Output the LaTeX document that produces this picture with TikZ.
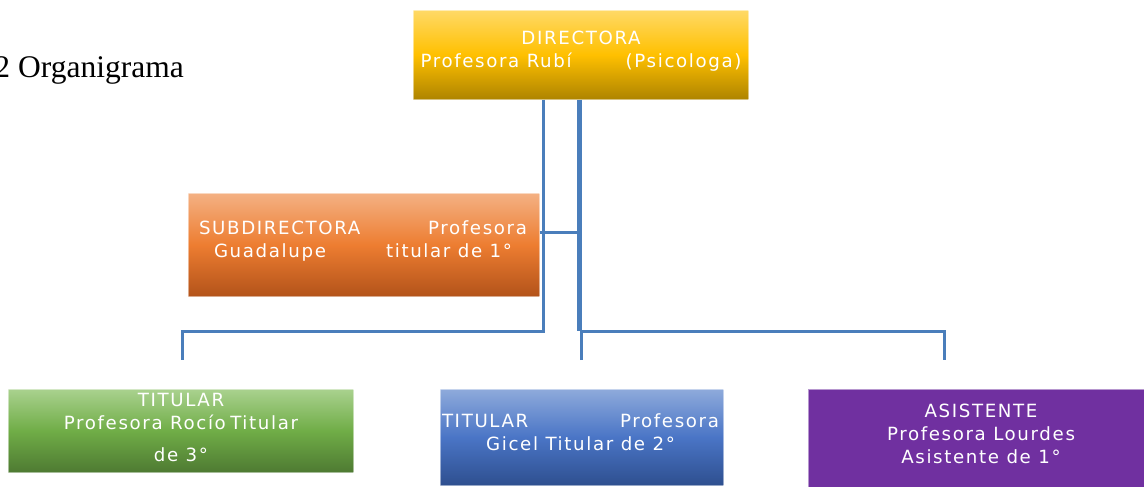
\documentclass[tikz,border=0pt]{standalone}
\usepackage{fontspec}
\setmainfont{Liberation Serif}
\newfontfamily\boxfont[LetterSpace=9]{DejaVu Sans}
\definecolor{lineblue}{HTML}{4A7EBB}
\definecolor{yTop}{HTML}{FFD966}
\definecolor{yMid}{HTML}{FFC000}
\definecolor{yBot}{HTML}{AE8400}
\definecolor{oTop}{HTML}{F4B183}
\definecolor{oMid}{HTML}{ED7D31}
\definecolor{oBot}{HTML}{B3531A}
\definecolor{gTop}{HTML}{A9D18E}
\definecolor{gMid}{HTML}{70AD47}
\definecolor{gBot}{HTML}{4E7A32}
\definecolor{bTop}{HTML}{8EAADB}
\definecolor{bMid}{HTML}{4A75C6}
\definecolor{bBot}{HTML}{2E4F8F}
\definecolor{pFill}{HTML}{7030A0}
\tikzset{
  orgbox/.style={rectangle, inner sep=0pt, anchor=north west, draw=white, draw opacity=0.5, line width=0.6pt},
  boxtext/.style={inner sep=0pt, text=white, align=center, font=\boxfont\fontsize{18.2}{23}\selectfont},
  thinl/.style={draw=lineblue, line width=3pt},
  thickl/.style={draw=lineblue, line width=5pt},
}
\begin{document}
\begin{tikzpicture}[x=1pt,y=-1pt]
\path[use as bounding box] (0,0) rectangle (1144,487);
\clip (0,0) rectangle (1144,487);

\node[anchor=base west, inner sep=0pt, font=\fontsize{31.5}{36}\selectfont] (title) at (-5.7,77.3) {2 Organigrama};

% boxes
\node[orgbox, minimum width=335pt, minimum height=89pt, top color=yTop, bottom color=yBot, middle color=yMid] (dir) at (413,10) {};
\node[orgbox, minimum width=351pt, minimum height=103pt, top color=oTop, bottom color=oBot, middle color=oMid] (sub) at (188,193) {};
\node[orgbox, minimum width=345pt, minimum height=83pt, top color=gTop, bottom color=gBot, middle color=gMid] (tit1) at (8,389) {};
\node[orgbox, minimum width=283pt, minimum height=96pt, top color=bTop, bottom color=bBot, middle color=bMid] (tit2) at (440,389) {};
\node[orgbox, minimum width=345pt, minimum height=110pt, fill=pFill] (asis) at (808,389) {};

% texts
\node[boxtext] (dirT) at (581,51.5) {DIRECTORA\\\makebox[321pt]{Profesora Rubí\hfill(Psicologa)}};
\node[boxtext] (subT) at (363,241) {\makebox[328pt]{SUBDIRECTORA\hfill Profesora}\\\makebox[298pt]{Guadalupe\hfill titular de 1°}};
\node[boxtext] (tit1T) at (181,427) {TITULAR\\Profesora Rocío\kern-3pt{} Titular\\[9pt]de 3°};
\node[boxtext] (tit2T) at (580.5,432) {\makebox[277pt]{TITULAR\hfill Profesora}\\Gicel Titular de 2°};
\node[boxtext] (asisT) at (981,434) {ASISTENTE\\Profesora Lourdes\\Asistente de 1°};

% connector helpers
\coordinate (xa) at (543,0);
\coordinate (xb) at (579.5,0);
\coordinate (hy) at (0,331);
\coordinate (hs) at (0,232);
\coordinate (j1) at (182,360);
\coordinate (j2) at (581,360);
\coordinate (j3) at (944,360);

% connectors
\draw[thinl] (dir.south -| xa) |- (hy -| j1) -- (j1);
\draw[thickl] (dir.south -| xb) -- (hy -| xb);
\draw[thinl] (sub.east |- hs) -- (hs -| xb);
\draw[thinl] (j2) -- (j2 |- hy) -- (j3 |- hy) -- (j3);
\end{tikzpicture}
\end{document}
